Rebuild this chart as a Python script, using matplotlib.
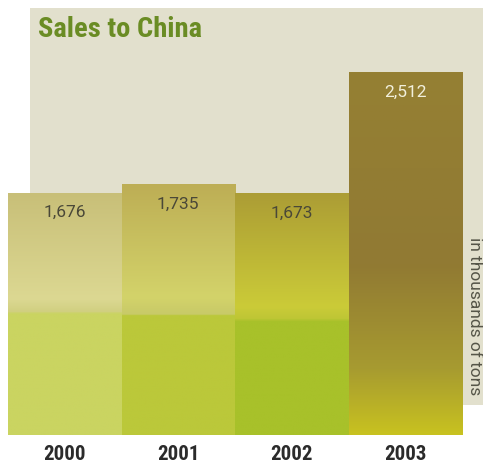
import numpy as np
import matplotlib
matplotlib.use("Agg")
import matplotlib.pyplot as plt
from matplotlib import font_manager
from matplotlib.colors import LinearSegmentedColormap
from matplotlib.patches import Rectangle

years = ["2000", "2001", "2002", "2003"]
sales = [1676, 1735, 1673, 2512]
value_labels = ["1,676", "1,735", "1,673", "2,512"]

# vertical colour stops per bar: (fraction of bar height from the bottom, colour)
bar_stops = [
    [(0.0, "#CAD461"), (0.50, "#CAD461"), (0.506, "#D0CF80"), (0.56, "#DCD892"), (1.0, "#C8BF78")],
    [(0.0, "#BBC83A"), (0.475, "#BBC83A"), (0.482, "#C8CA68"), (0.55, "#D3D36A"), (1.0, "#BDAE55")],
    [(0.0, "#A8C12A"), (0.47, "#A8C12A"), (0.48, "#BEC635"), (0.53, "#CBCB38"), (1.0, "#AC9D35")],
    [(0.0, "#C8C220"), (0.18, "#A79B30"), (0.47, "#917A33"), (1.0, "#958033")],
]
label_colors = ["#4A4838", "#4A4838", "#4A4838", "#F2F0DC"]

# narrow face for headings, plain Roboto for the labels
installed = {f.name for f in font_manager.fontManager.ttflist}
narrow = [n for n in ["Roboto Condensed", "Liberation Sans Narrow", "DejaVu Sans Condensed"]
          if n in installed]
fam = narrow[:1] + ["DejaVu Sans"]
plain = ["Roboto", "DejaVu Sans"]

W, H = 483, 469
fig = plt.figure(figsize=(W / 100, H / 100), dpi=100)
fig.patch.set_facecolor("white")

# beige backdrop panel
fig.patches.append(Rectangle((30 / W, 1 - 405 / H), (W - 30) / W, (405 - 8) / H,
                             transform=fig.transFigure, facecolor="#E2E0CD",
                             edgecolor="none", zorder=0))

ax = fig.add_axes([8 / W, 1 - 435 / H, (462 - 8) / W, (435 - 8) / H])
ax.set_zorder(2)
ax.set_facecolor("none")

x = np.arange(len(years))
bars = ax.bar(x, sales, width=1.0, color="none", edgecolor="none")

for bar, stops, h in zip(bars, bar_stops, sales):
    cmap = LinearSegmentedColormap.from_list("g", stops)
    grad = np.linspace(0, 1, 400).reshape(-1, 1)
    x0 = bar.get_x()
    im = ax.imshow(grad, cmap=cmap, origin="lower", aspect="auto",
                   extent=[x0, x0 + bar.get_width(), 0, h], interpolation="bilinear")
    im.set_clip_path(bar)

for xi, h, txt, c in zip(x, sales, value_labels, label_colors):
    ax.annotate(txt, (xi, h), xytext=(0, -20), textcoords="offset pixels",
                ha="center", va="center", color=c, fontsize=12.5, family=plain)

ax.set_xticks(x)
ax.set_xticklabels(years, fontsize=15, fontweight="bold", color="#2B2B2B", family=fam)
ax.tick_params(axis="x", length=0, pad=7)
ax.set_yticks([])
for s in ax.spines.values():
    s.set_visible(False)
ax.set_xlim(-0.5, 3.5)
ax.set_ylim(0, 2512 * 427 / 363)

fig.text(38 / W, 1 - 37 / H, "Sales to China", fontsize=20.5, fontweight="bold",
         color="#6A8C24", va="baseline", ha="left", family=fam)

fig.text(475 / W, 1 - 316 / H, "in thousands of tons", rotation=270,
         ha="center", va="center", fontsize=12.5, color="#555548", family=plain)

fig.savefig("out.png", dpi=100)
